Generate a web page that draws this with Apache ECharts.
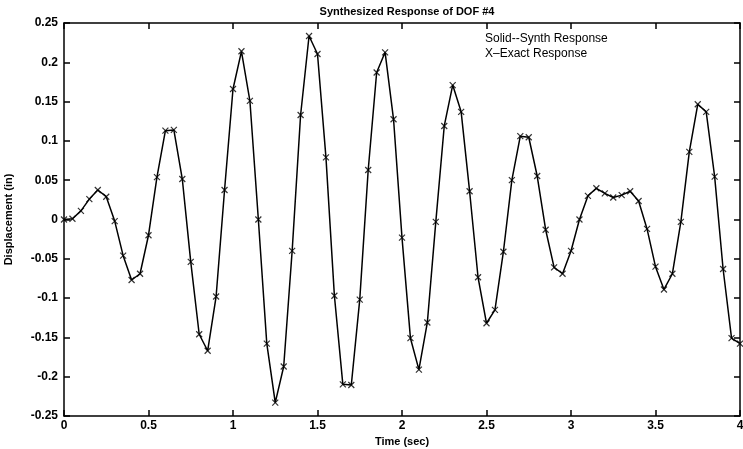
<!DOCTYPE html>
<html><head><meta charset="utf-8">
<script src="https://cdn.jsdelivr.net/npm/echarts@6/dist/echarts.min.js"></script>
<style>html,body{margin:0;padding:0;background:#fff}#c{width:743px;height:449px}</style>
</head><body><div id="c"></div>
<script>
const titleText = "Synthesized Response of DOF #4";
const xLabel = "Time (sec)";
const yLabel = "Displacement (in)";
const legendLines = ["Solid--Synth Response", "X\u2013Exact Response"];
const times = [0,0.05,0.1,0.15,0.2,0.25,0.3,0.35,0.4,0.45,0.5,0.55,0.6,0.65,0.7,0.75,0.8,0.85,0.9,0.95,
1.0,1.05,1.1,1.15,1.2,1.25,1.3,1.35,1.4,1.45,1.5,1.55,1.6,1.65,1.7,1.75,1.8,1.85,1.9,1.95,
2.0,2.05,2.1,2.15,2.2,2.25,2.3,2.35,2.4,2.45,2.5,2.55,2.6,2.65,2.7,2.75,2.8,2.85,2.9,2.95,
3.0,3.05,3.1,3.15,3.2,3.25,3.3,3.35,3.4,3.45,3.5,3.55,3.6,3.65,3.7,3.75,3.8,3.85,3.9,3.95,4.0];
const displacement = [0,0.001,0.011,0.026,0.0375,0.029,-0.002,-0.046,-0.077,-0.069,-0.020,0.054,0.113,0.114,0.0515,-0.054,-0.146,-0.167,-0.098,0.0375,
0.166,0.214,0.151,0.0,-0.158,-0.233,-0.187,-0.040,0.133,0.2335,0.2105,0.079,-0.097,-0.2097,-0.2106,-0.102,0.063,0.187,0.2127,0.1275,
-0.023,-0.151,-0.191,-0.131,-0.003,0.119,0.171,0.137,0.036,-0.0735,-0.132,-0.115,-0.041,0.050,0.106,0.1046,0.0553,-0.013,-0.061,-0.069,
-0.040,0.0,0.030,0.0397,0.0333,0.028,0.031,0.036,0.0235,-0.012,-0.060,-0.089,-0.069,-0.003,0.086,0.1466,0.137,0.0545,-0.063,-0.151,-0.158];
const pts = times.map((t,i)=>[t, displacement[i]]);
const F = "Liberation Sans, Arial, sans-serif";
const chart = echarts.init(document.getElementById('c'));
function axisStyle(){
  return {
    axisLine:{show:true,onZero:false,lineStyle:{color:'#000',width:1.5}},
    axisTick:{show:true,inside:true,length:6,lineStyle:{color:'#000',width:1.5}},
    splitLine:{show:false}
  };
}
chart.setOption({
  animation:false,
  backgroundColor:'#fff',
  title:{text:titleText,left:402,top:1,textAlign:'center',
    textStyle:{fontFamily:F,fontSize:11,fontWeight:'bold',color:'#000'}},
  grid:{left:64,right:3,top:23,bottom:33,containLabel:false,outerBoundsMode:'none'},
  xAxis:[
    Object.assign(axisStyle(),{type:'value',min:0,max:4,interval:0.5,position:'bottom',
      name:xLabel,nameLocation:'middle',nameGap:18,
      nameTextStyle:{fontFamily:F,fontSize:11,fontWeight:'bold',color:'#000'},
      axisLabel:{fontFamily:F,fontSize:12,fontWeight:'bold',color:'#000',margin:4,
        formatter:v=>String(+v.toFixed(2))}}),
    Object.assign(axisStyle(),{type:'value',min:0,max:4,interval:0.5,position:'top',axisLabel:{show:false}})
  ],
  yAxis:[
    Object.assign(axisStyle(),{type:'value',min:-0.25,max:0.25,interval:0.05,position:'left',
      name:yLabel,nameLocation:'middle',nameGap:50,
      nameTextStyle:{fontFamily:F,fontSize:11,fontWeight:'bold',color:'#000'},
      axisLabel:{fontFamily:F,fontSize:12,fontWeight:'bold',color:'#000',margin:6,
        formatter:v=>String(+v.toFixed(2))}}),
    Object.assign(axisStyle(),{type:'value',min:-0.25,max:0.25,interval:0.05,position:'right',axisLabel:{show:false}})
  ],
  series:[
    {name:'Synth',type:'line',data:pts,showSymbol:false,symbol:'none',
      lineStyle:{color:'#000',width:1.5}},
    {name:'Exact',type:'scatter',data:pts,
      symbol:'path://M0,0L10,10M10,0L0,10',symbolSize:6,
      itemStyle:{color:'none',borderColor:'#000',borderWidth:1.2}}
  ],
  graphic:[
    {type:'text',left:485,top:33,style:{text:legendLines[0],fontFamily:F,fontSize:12,fill:'#000'}},
    {type:'text',left:485,top:48,style:{text:legendLines[1],fontFamily:F,fontSize:12,fill:'#000'}}
  ]
});
</script></body></html>
